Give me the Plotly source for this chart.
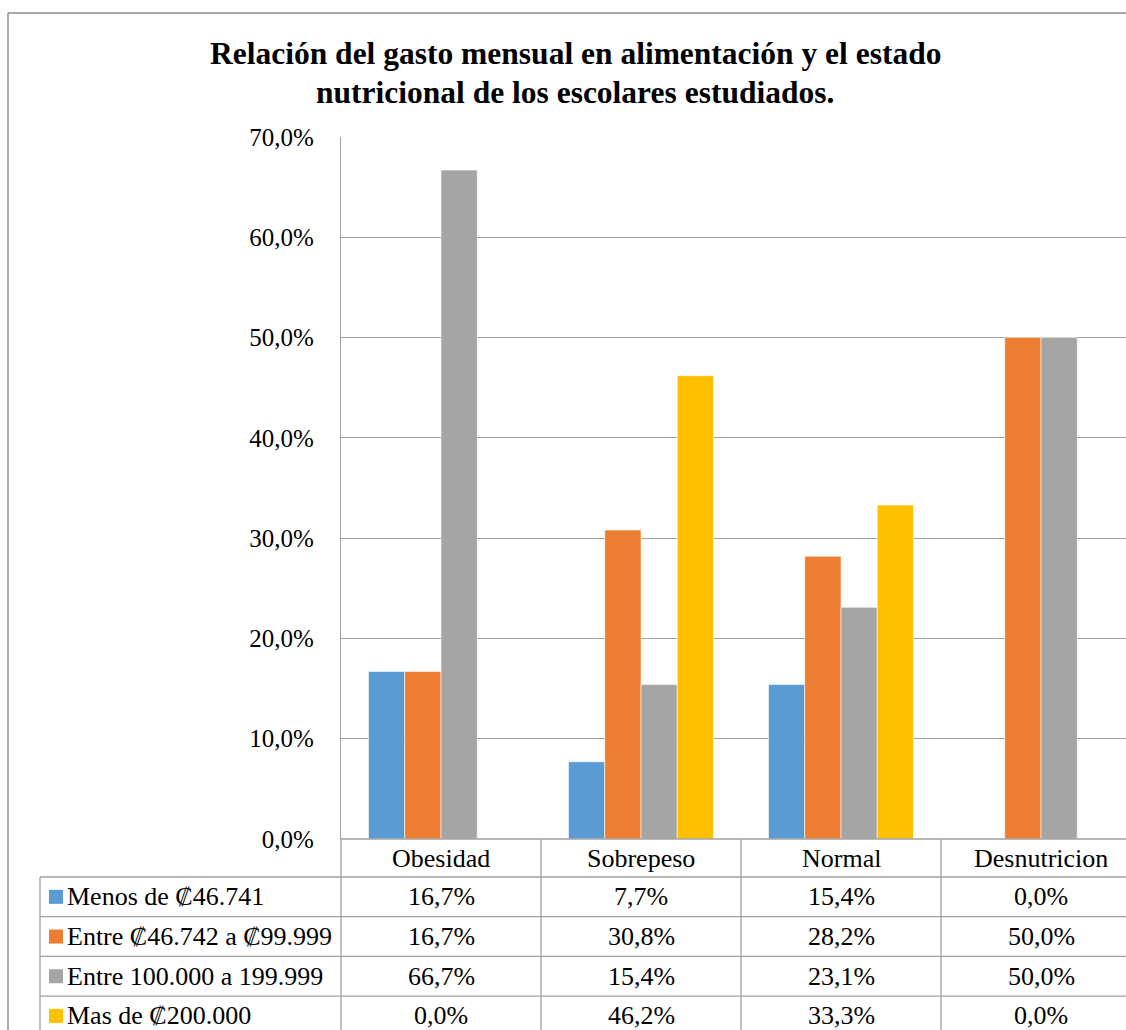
import plotly.graph_objects as go

# Nutritional status categories and monthly food-spending groups
categorias = ["Obesidad", "Sobrepeso", "Normal", "Desnutricion"]
series_nombres = [
    "Menos de ₡46.741",
    "Entre ₡46.742 a ₡99.999",
    "Entre 100.000 a 199.999",
    "Mas de ₡200.000",
]
menos_46741 = [16.7, 7.7, 15.4, 0.0]
entre_46742_99999 = [16.7, 30.8, 28.2, 50.0]
entre_100000_199999 = [66.7, 15.4, 23.1, 50.0]
mas_200000 = [0.0, 46.2, 33.3, 0.0]
valores = [menos_46741, entre_46742_99999, entre_100000_199999, mas_200000]

ticks_y = [0, 10, 20, 30, 40, 50, 60, 70]
colores = ["#5B9BD5", "#ED7D31", "#A5A5A5", "#FFC000"]
titulo = [
    "Relación del gasto mensual en alimentación y el estado",
    "nutricional de los escolares estudiados.",
]

W, H = 1126, 1030
FONT = "Times New Roman"
GRID = "#A0A0A0"
TXT = 26


def px(x):
    return x / W


def py(y):
    return 1 - y / H


def pct(v):
    return f"{v:.1f}".replace(".", ",") + "%"


fig = go.Figure()
xs = list(range(len(categorias)))
for nombre, vals, col in zip(series_nombres, valores, colores):
    fig.add_trace(go.Bar(
        x=xs, y=vals, name=nombre, marker_color=col,
        marker_line=dict(color="rgba(255,255,255,0.7)", width=0.8),
        showlegend=False,
    ))

# plot area: left axis at x=341, top 70% at y=137, baseline at y=839
plot_left, plot_top, plot_bottom = 341, 137, 839
col_w = 200
x_hi = -0.5 + (W - plot_left) / col_w

fig.update_layout(
    width=W, height=H, autosize=False,
    margin=dict(l=0, r=0, t=0, b=0, pad=0, autoexpand=False),
    paper_bgcolor="white", plot_bgcolor="white",
    barmode="group", bargap=0.275, bargroupgap=0,
    font=dict(family=FONT, color="black"),
    showlegend=False,
    xaxis=dict(domain=[px(plot_left), 1], range=[-0.5, x_hi],
               showticklabels=False, showgrid=False, zeroline=False,
               showline=False, fixedrange=True, automargin=False),
    yaxis=dict(domain=[py(plot_bottom), py(plot_top)], range=[0, 70],
               tickvals=ticks_y, ticktext=[pct(t) for t in ticks_y],
               tickfont=dict(family=FONT, size=25, color="black"),
               ticks="", ticklabelstandoff=21, automargin=False,
               showgrid=True, gridcolor=GRID, gridwidth=1.3,
               zeroline=False, showline=True, linecolor=GRID, linewidth=1.3,
               fixedrange=True),
)

shapes = []


def hline(x0, x1, y, color=GRID, w=1.3):
    shapes.append(dict(type="line", xref="paper", yref="paper",
                       x0=px(x0), x1=px(x1), y0=py(y), y1=py(y),
                       line=dict(color=color, width=w)))


def vline(x, y0, y1, color=GRID, w=1.3):
    shapes.append(dict(type="line", xref="paper", yref="paper",
                       x0=px(x), x1=px(x), y0=py(y0), y1=py(y1),
                       line=dict(color=color, width=w)))


# outer chart border
hline(8, W + 20, 13, color="#8C8C8C", w=1.5)
vline(8, 13, H + 20, color="#8C8C8C", w=1.5)

# data table grid
table_left = 40
header_bottom = 877
row_h = 39.7
row_lines = [header_bottom + i * row_h for i in range(len(series_nombres) + 1)]
hline(plot_left, W + 20, plot_bottom)
for y in row_lines:
    hline(table_left, W + 20, y)
vline(table_left, header_bottom, H + 20)
for i in range(len(categorias)):
    vline(plot_left + i * col_w, plot_bottom, H + 20)

annotations = []
# category header row
for i, c in enumerate(categorias):
    annotations.append(dict(x=i, xref="x", y=py((plot_bottom + header_bottom) / 2),
                            yref="paper", text=c, showarrow=False,
                            font=dict(family=FONT, size=TXT, color="black"),
                            xanchor="center", yanchor="middle"))

# series rows: legend key, name and values
for r, (nombre, vals, col) in enumerate(zip(series_nombres, valores, colores)):
    yc = row_lines[r] + row_h / 2
    shapes.append(dict(type="rect", xref="paper", yref="paper",
                       x0=px(49), x1=px(63), y0=py(yc - 7), y1=py(yc + 7),
                       fillcolor=col, line=dict(width=0)))
    annotations.append(dict(x=px(65), xref="paper", y=py(yc), yref="paper",
                            text=nombre, showarrow=False,
                            font=dict(family=FONT, size=TXT, color="black"),
                            xanchor="left", yanchor="middle"))
    for i, v in enumerate(vals):
        annotations.append(dict(x=i, xref="x", y=py(yc), yref="paper",
                                text=pct(v), showarrow=False,
                                font=dict(family=FONT, size=TXT, color="black"),
                                xanchor="center", yanchor="middle"))

# chart title, two centred bold lines
for linea, yl in zip(titulo, [53, 92]):
    annotations.append(dict(
        x=px(575), xref="paper", y=py(yl), yref="paper",
        text=f"<b>{linea}</b>", showarrow=False, align="center",
        font=dict(family=FONT, size=31.5, color="black"),
        xanchor="center", yanchor="middle"))

fig.update_layout(shapes=shapes, annotations=annotations)
fig.write_html("out.html")
